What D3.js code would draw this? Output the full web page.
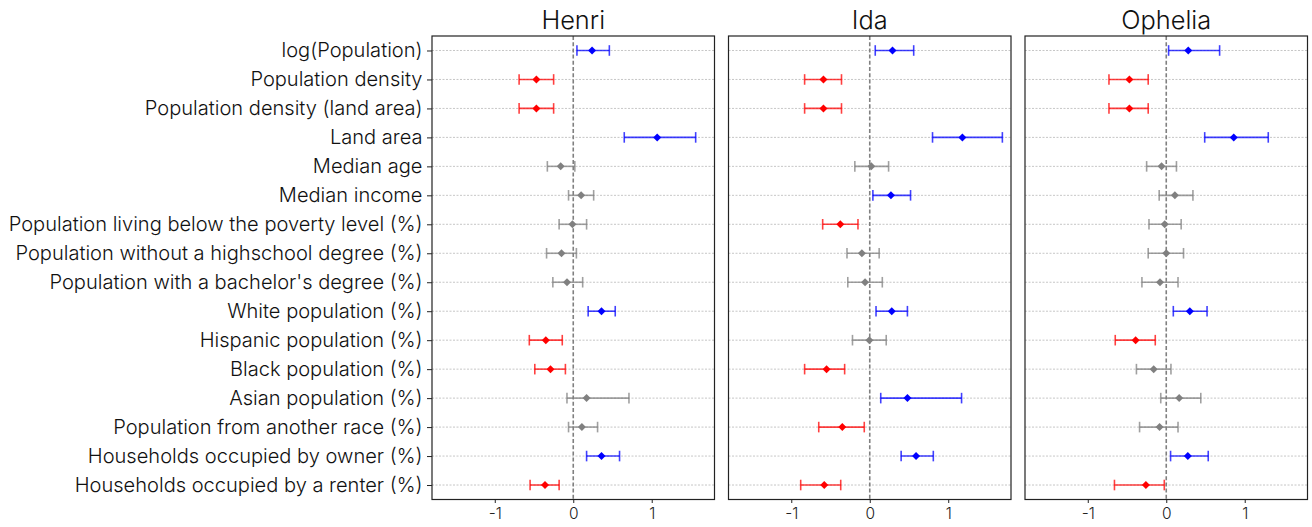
<!DOCTYPE html>
<html><head><meta charset="utf-8">
<script src="https://cdn.jsdelivr.net/npm/d3@7"></script>
<style>
body{margin:0;background:#fff;}
text{font-family:Inter,Roboto,"Liberation Sans",sans-serif;font-weight:300;}
</style></head>
<body><svg id="chart" width="1312" height="527"></svg>
<script>
const categories = ["log(Population)","Population density","Population density (land area)","Land area","Median age","Median income","Population living below the poverty level (%)","Population without a highschool degree (%)","Population with a bachelor's degree (%)","White population (%)","Hispanic population (%)","Black population (%)","Asian population (%)","Population from another race (%)","Households occupied by owner (%)","Households occupied by a renter (%)"];
const panels = ["Henri","Ida","Ophelia"];
const henriEst = [0.24,-0.47,-0.47,1.07,-0.16,0.10,-0.01,-0.15,-0.08,0.36,-0.35,-0.29,0.17,0.11,0.36,-0.36];
const henriLo  = [0.047,-0.69,-0.69,0.65,-0.33,-0.06,-0.18,-0.34,-0.26,0.19,-0.56,-0.49,-0.08,-0.06,0.17,-0.55];
const henriHi  = [0.46,-0.25,-0.25,1.56,0.02,0.26,0.17,0.04,0.12,0.535,-0.14,-0.10,0.71,0.31,0.59,-0.18];
const idaEst = [0.29,-0.59,-0.59,1.18,0.02,0.27,-0.375,-0.10,-0.06,0.28,-0.005,-0.55,0.48,-0.35,0.59,-0.58];
const idaLo  = [0.07,-0.83,-0.83,0.80,-0.19,0.04,-0.60,-0.29,-0.28,0.08,-0.22,-0.83,0.14,-0.65,0.40,-0.88];
const idaHi  = [0.56,-0.36,-0.36,1.69,0.24,0.52,-0.15,0.12,0.16,0.48,0.21,-0.32,1.17,-0.07,0.81,-0.37];
const opheliaEst = [0.28,-0.47,-0.47,0.86,-0.06,0.11,-0.02,0.00,-0.08,0.30,-0.39,-0.16,0.165,-0.085,0.275,-0.26];
const opheliaLo  = [0.03,-0.73,-0.73,0.49,-0.25,-0.09,-0.22,-0.23,-0.31,0.09,-0.65,-0.38,-0.07,-0.34,0.055,-0.66];
const opheliaHi  = [0.68,-0.23,-0.23,1.30,0.13,0.34,0.19,0.22,0.15,0.52,-0.14,0.06,0.44,0.15,0.535,-0.025];
const xTicks = [-1,0,1];
const xDomain = [-1.8,1.8];

const panelData = [[henriEst,henriLo,henriHi],[idaEst,idaLo,idaHi],[opheliaEst,opheliaLo,opheliaHi]];

const svg = d3.select("#chart");
const plotTop = 36, plotBottom = 499.5, pw = 282.5, gap = 14, left0 = 432;
const FONT = "Inter, Roboto, 'Liberation Sans', sans-serif";
const y = d3.scalePoint().domain(categories).range([plotTop, plotBottom]).padding(0.5);

function colorOf(lo, hi){ return lo > 0 ? "#0000ff" : (hi < 0 ? "#ff0000" : "#808080"); }

function fitWidth(sel, target, base){
  sel.attr("font-size", base);
  let maxW = 0;
  sel.each(function(){ maxW = Math.max(maxW, this.getComputedTextLength()); });
  if (maxW > 0) sel.attr("font-size", base*target/maxW);
}

const titles = [];
panels.forEach((name, pi) => {
  const x0 = left0 + pi*(pw+gap);
  const x = d3.scaleLinear().domain(xDomain).range([x0, x0+pw]);
  const g = svg.append("g");
  const [est, lo, hi] = panelData[pi];
  g.selectAll("line.grid").data(categories).join("line")
    .attr("x1", x0).attr("x2", x0+pw)
    .attr("y1", d=>y(d)).attr("y2", d=>y(d))
    .attr("stroke","#b8b8b8").attr("stroke-width",0.8).attr("stroke-dasharray","2,1.5");
  g.append("line").attr("x1",x(0)).attr("x2",x(0)).attr("y1",plotTop).attr("y2",plotBottom)
    .attr("stroke","#808080").attr("stroke-width",1.6).attr("stroke-dasharray","4,2.2");
  const rows = categories.map((c,i)=>({c, e:est[i], l:lo[i], h:hi[i], col:colorOf(lo[i],hi[i])}));
  const eb = g.selectAll("g.eb").data(rows).join("g").attr("stroke", d=>d.col).attr("stroke-opacity",0.75).attr("stroke-width",1.6);
  eb.append("line").attr("x1",d=>x(d.l)).attr("x2",d=>x(d.h)).attr("y1",d=>y(d.c)).attr("y2",d=>y(d.c));
  eb.append("line").attr("x1",d=>x(d.l)).attr("x2",d=>x(d.l)).attr("y1",d=>y(d.c)-5.3).attr("y2",d=>y(d.c)+5.3);
  eb.append("line").attr("x1",d=>x(d.h)).attr("x2",d=>x(d.h)).attr("y1",d=>y(d.c)-5.3).attr("y2",d=>y(d.c)+5.3);
  const sym = d3.symbol().type(d3.symbolSquare).size(32);
  g.selectAll("path.pt").data(rows).join("path")
    .attr("d", sym).attr("fill", d=>d.col)
    .attr("transform", d=>`translate(${x(d.e)},${y(d.c)}) rotate(45)`);
  g.append("rect").attr("x",x0).attr("y",plotTop).attr("width",pw).attr("height",plotBottom-plotTop)
    .attr("fill","none").attr("stroke","#222").attr("stroke-width",1.2);
  const xa = g.append("g").attr("transform",`translate(0,${plotBottom})`)
    .call(d3.axisBottom(x).tickValues(xTicks).tickFormat(d=>String(d)).tickSize(3.5).tickPadding(5));
  xa.select(".domain").remove();
  xa.selectAll("line").attr("stroke","#222");
  xa.selectAll("text").attr("font-size",15.5).attr("fill","#222").style("font-family",FONT).style("font-weight",300);
  const t = g.append("text").attr("x", x0+pw/2).attr("y", 29).attr("text-anchor","middle")
    .attr("font-size",24).attr("fill","#111").text(name);
  titles.push(t.node());
  if (pi === 0) {
    const ya = g.append("g").attr("transform",`translate(${x0},0)`)
      .call(d3.axisLeft(y).tickSize(5).tickPadding(4.5));
    ya.select(".domain").remove();
    ya.selectAll("line").attr("stroke","#222");
    const yt = ya.selectAll("text").attr("fill","#111").style("font-family",FONT).style("font-weight",300);
    fitWidth(yt, 414, 18);
  }
});
const oph = d3.selectAll(titles).filter(function(){return this.textContent==="Ophelia";});
fitWidth(oph, 90, 24);
d3.selectAll(titles).attr("font-size", oph.attr("font-size"));
</script></body></html>
